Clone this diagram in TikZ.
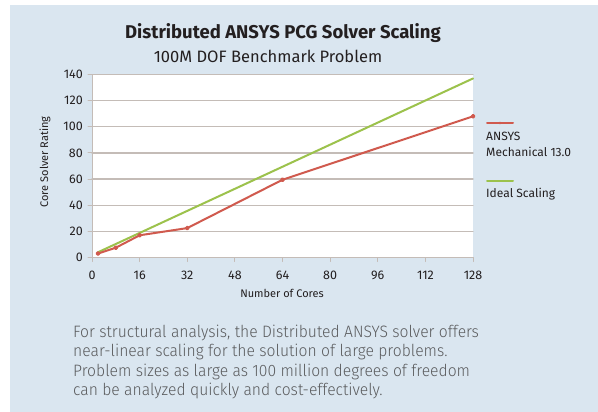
\documentclass[tikz,border=0pt]{standalone}
\usepackage{fontspec}
\setmainfont{Fira Sans}
\newfontfamily\lightfont{Fira Sans Light}
\definecolor{bgblue}{HTML}{DAE6F0}
\definecolor{gridgray}{HTML}{C4BCB7}
\definecolor{ansysred}{HTML}{D05A4E}
\definecolor{idealgreen}{HTML}{9CC24C}
\definecolor{titleink}{HTML}{231F20}
\definecolor{bodyink}{HTML}{5A5B5D}
\begin{document}
\begin{tikzpicture}[x=1pt, y=-1pt, line join=round, line cap=round,
		font=\fontsize{12}{14}\selectfont, text=titleink,
		gridline/.style={gridgray, line width=1.3pt},
		axisline/.style={gridgray, line width=1pt},
		ansysline/.style={ansysred, line width=2pt},
		idealline/.style={idealgreen, line width=2pt},
		ticklab/.style={inner sep=0pt, font=\fontsize{12.5}{14}\selectfont}]
	\def\xo{92} \def\yo{257.5} % origin of the plot
	\def\xs{2.977} \def\ys{1.307} % px per core, px per rating unit
	\def\xr{473} \def\yt{74.5}
	\useasboundingbox (0,0) rectangle (598,412);
	\fill[bgblue] (10,5) rectangle (598,412);
	\fill[white] (\xo,\yt) rectangle (\xr,\yo);
	\begin{scope}[shift={(\xo,\yo)}, x=\xs pt, y=\ys pt]
		\foreach \v in {20,40,...,140}
			\draw[gridline] (0,\v) -- (128,\v);
		\draw[axisline] (0,0) -- (0,140);
		\draw[axisline] (0,0) -- (128,0);
		\foreach \v in {0,20,...,140}{
			\draw[axisline] (0,\v) -- ++(-4pt,0);
			\node[ticklab, anchor=east] (ylab\v) at ([xshift=-9pt]0,\v) {\v};
		}
		\foreach \c in {0,16,...,128}{
			\draw[axisline] (\c,0) -- ++(0,-4pt);
			\node[ticklab, anchor=north] (xlab\c) at ([yshift=-13pt]\c,0) {\c};
		}
		\draw[idealline] (2,4) -- (128,137);
		\draw[ansysline] plot[mark=*, mark size=1.4pt, mark options={ansysred}]
			coordinates {(2,3) (8,7.5) (16,17) (32,22.5) (64,59.5) (128,108)};
	\end{scope}
	% titles
	\node[font=\bfseries\fontsize{18.5}{20}\selectfont] (title) at (283,33)
		{Distributed ANSYS PCG Solver Scaling};
	\node[font=\fontsize{16.5}{18}\selectfont] (subtitle) at (268,56) {100M DOF Benchmark Problem};
	\node[rotate=90, font=\fontsize{11}{13}\selectfont] (ytitle) at (45,162) {Core Solver Rating};
	\node[font=\fontsize{11}{13}\selectfont] (xtitle) at (282,293) {Number of Cores};
	% legend
	\draw[ansysline] (487,123) -- (513,123);
	\fill[ansysred] (500,123) circle (1.4pt);
	\node[anchor=north west, inner sep=0pt, align=left, font=\fontsize{12}{16}\selectfont]
		(legansys) at (486,132) {ANSYS\\Mechanical 13.0};
	\draw[idealline] (487,181) -- (513,181);
	\node[anchor=west, inner sep=0pt] (legideal) at (486,194) {Ideal Scaling};
	% caption text
	\begin{scope}[every node/.style={anchor=base west, inner sep=0pt, text=bodyink,
			font=\lightfont\fontsize{16.5}{19}\selectfont}]
		\node (capa) at (73,337) {\scalebox{0.95}[1]{For structural analysis, the Distributed ANSYS solver offers}};
		\node (capb) at (73,356.5) {\scalebox{0.95}[1]{near-linear scaling for the solution of large problems.}};
		\node (capc) at (73,376) {\scalebox{0.95}[1]{Problem sizes as large as 100 million degrees of freedom}};
		\node (capd) at (73,395.5) {\scalebox{0.95}[1]{can be analyzed quickly and cost-effectively.}};
	\end{scope}
\end{tikzpicture}
\end{document}
